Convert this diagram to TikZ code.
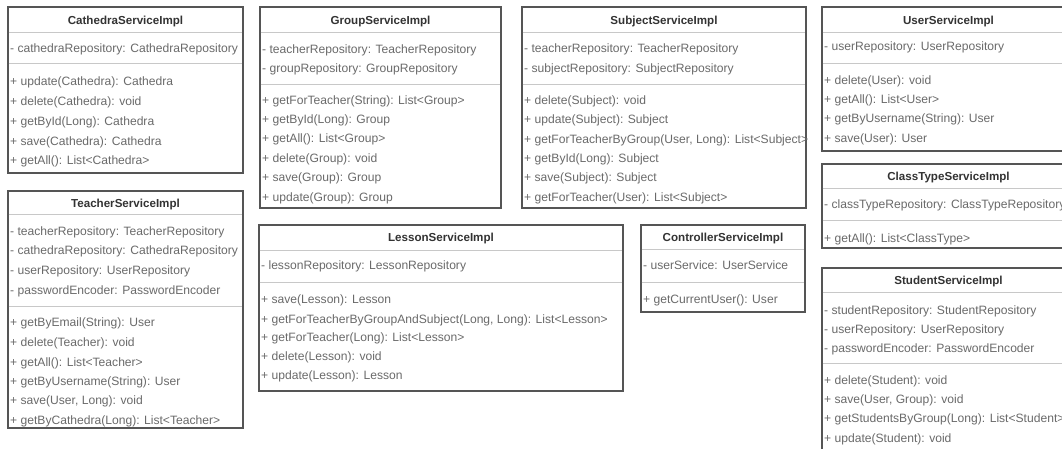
\documentclass[tikz,border=0pt]{standalone}
\usepackage{fontspec}
\setmainfont{Liberation Sans}
\usetikzlibrary{calc}
\definecolor{bordc}{HTML}{555555}
\definecolor{sepc}{HTML}{C8C8C8}
\definecolor{txtc}{HTML}{6A6A6A}
\definecolor{ttlc}{HTML}{333333}
\tikzset{
  classbox/.style={draw=bordc, line width=1.3pt, fill=white, inner sep=0pt, outer sep=0pt, anchor=north west},
  sepline/.style={draw=sepc, line width=1pt},
  member/.style={anchor=base west, inner sep=0pt, text=txtc, font=\fontsize{12.1}{14}\selectfont},
  ctitle/.style={anchor=base, inner sep=0pt, text=ttlc, font=\fontsize{11.6}{14}\selectfont\bfseries},
}
% #1 name, #2 left, #3 top, #4 right, #5 bottom, #6 title, #7 title y, #8 sep1, #9 sep2
\newcommand{\umlbox}[9]{%
  \node[classbox, minimum width=#4-#2, minimum height=#5-#3] (#1) at (#2,#3) {};
  \node[ctitle] (#1-title) at ({(#2+#4)/2},#7+4) {#6};
  \draw[sepline] (#2+0.7,#8) -- (#4-0.7,#8);
  \draw[sepline] (#2+0.7,#9) -- (#4-0.7,#9);
}
\newcommand{\mem}[4]{\node[member] (#1) at (#2+2,#3+4) {#4};}
\begin{document}
\begin{tikzpicture}[x=1pt,y=-1pt]
\useasboundingbox[fill=white] (0,0) rectangle (1062,448);
\clip (0,0) rectangle (1062,448);

% CathedraServiceImpl
\umlbox{cat}{8}{7}{243}{173}{CathedraServiceImpl}{20}{32}{63}
\mem{cat-a1}{8}{48}{- cathedraRepository: CathedraRepository}
\mem{cat-m1}{8}{81}{+ update(Cathedra): Cathedra}
\mem{cat-m2}{8}{101}{+ delete(Cathedra): void}
\mem{cat-m3}{8}{121}{+ getById(Long): Cathedra}
\mem{cat-m4}{8}{141}{+ save(Cathedra): Cathedra}
\mem{cat-m5}{8}{160}{+ getAll(): List<Cathedra>}

% TeacherServiceImpl
\umlbox{tea}{8}{191}{243}{428}{TeacherServiceImpl}{203}{214}{306}
\mem{tea-a1}{8}{231}{- teacherRepository: TeacherRepository}
\mem{tea-a2}{8}{250}{- cathedraRepository: CathedraRepository}
\mem{tea-a3}{8}{270}{- userRepository: UserRepository}
\mem{tea-a4}{8}{290}{- passwordEncoder: PasswordEncoder}
\mem{tea-m1}{8}{322}{+ getByEmail(String): User}
\mem{tea-m2}{8}{342}{+ delete(Teacher): void}
\mem{tea-m3}{8}{362}{+ getAll(): List<Teacher>}
\mem{tea-m4}{8}{381}{+ getByUsername(String): User}
\mem{tea-m5}{8}{400}{+ save(User, Long): void}
\mem{tea-m6}{8}{420}{+ getByCathedra(Long): List<Teacher>}

% GroupServiceImpl
\umlbox{grp}{260}{7}{501}{208}{GroupServiceImpl}{20}{32}{84}
\mem{grp-a1}{260}{49}{- teacherRepository: TeacherRepository}
\mem{grp-a2}{260}{68}{- groupRepository: GroupRepository}
\mem{grp-m1}{260}{100}{+ getForTeacher(String): List<Group>}
\mem{grp-m2}{260}{119}{+ getById(Long): Group}
\mem{grp-m3}{260}{138}{+ getAll(): List<Group>}
\mem{grp-m4}{260}{158}{+ delete(Group): void}
\mem{grp-m5}{260}{177}{+ save(Group): Group}
\mem{grp-m6}{260}{197}{+ update(Group): Group}

% LessonServiceImpl
\umlbox{les}{259}{225}{623}{391}{LessonServiceImpl}{237}{250}{282}
\mem{les-a1}{259}{265}{- lessonRepository: LessonRepository}
\mem{les-m1}{259}{299}{+ save(Lesson): Lesson}
\mem{les-m2}{259}{319}{+ getForTeacherByGroupAndSubject(Long, Long): List<Lesson>}
\mem{les-m3}{259}{337}{+ getForTeacher(Long): List<Lesson>}
\mem{les-m4}{259}{356}{+ delete(Lesson): void}
\mem{les-m5}{259}{375}{+ update(Lesson): Lesson}

% SubjectServiceImpl
\umlbox{sub}{522}{7}{806}{208}{SubjectServiceImpl}{20}{32}{84}
\mem{sub-a1}{522}{48}{- teacherRepository: TeacherRepository}
\mem{sub-a2}{522}{68}{- subjectRepository: SubjectRepository}
\mem{sub-m1}{522}{100}{+ delete(Subject): void}
\mem{sub-m2}{522}{119}{+ update(Subject): Subject}
\mem{sub-m3}{522}{139}{+ getForTeacherByGroup(User, Long): List<Subject>}
\mem{sub-m4}{522}{158}{+ getById(Long): Subject}
\mem{sub-m5}{522}{177}{+ save(Subject): Subject}
\mem{sub-m6}{522}{197}{+ getForTeacher(User): List<Subject>}

% ControllerServiceImpl
\umlbox{ctl}{641}{225}{805}{312}{ControllerServiceImpl}{237}{249}{282}
\mem{ctl-a1}{641}{265}{- userService: UserService}
\mem{ctl-m1}{641}{299}{+ getCurrentUser(): User}

% UserServiceImpl
\umlbox{usr}{822}{7}{1075}{151}{UserServiceImpl}{20}{32}{63}
\mem{usr-a1}{822}{46}{- userRepository: UserRepository}
\mem{usr-m1}{822}{80}{+ delete(User): void}
\mem{usr-m2}{822}{99}{+ getAll(): List<User>}
\mem{usr-m3}{822}{118}{+ getByUsername(String): User}
\mem{usr-m4}{822}{138}{+ save(User): User}

% ClassTypeServiceImpl
\umlbox{cls}{822}{164}{1075}{248}{ClassTypeServiceImpl}{176}{188}{220}
\mem{cls-a1}{822}{204}{- classTypeRepository: ClassTypeRepository}
\mem{cls-m1}{822}{238}{+ getAll(): List<ClassType>}

% StudentServiceImpl
\umlbox{stu}{822}{268}{1075}{462}{StudentServiceImpl}{280}{292}{363}
\mem{stu-a1}{822}{310}{- studentRepository: StudentRepository}
\mem{stu-a2}{822}{329}{- userRepository: UserRepository}
\mem{stu-a3}{822}{348}{- passwordEncoder: PasswordEncoder}
\mem{stu-m1}{822}{380}{+ delete(Student): void}
\mem{stu-m2}{822}{399}{+ save(User, Group): void}
\mem{stu-m3}{822}{418}{+ getStudentsByGroup(Long): List<Student>}
\mem{stu-m4}{822}{438}{+ update(Student): void}
\end{tikzpicture}
\end{document}
